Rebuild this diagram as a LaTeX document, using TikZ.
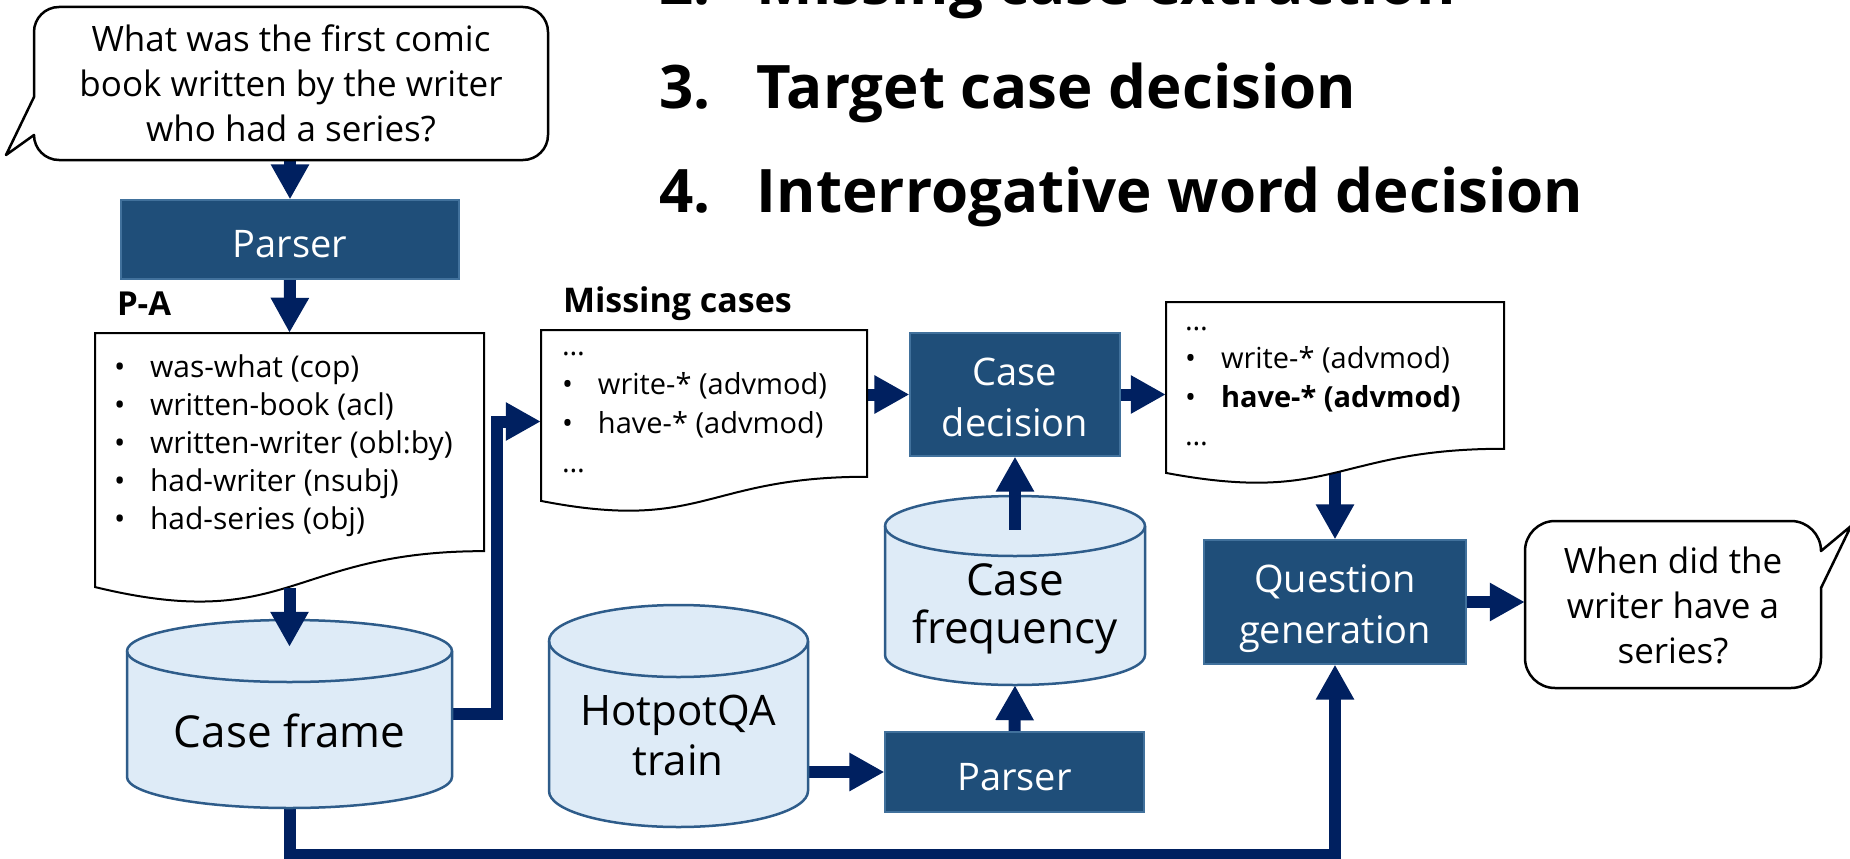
\documentclass[tikz,border=0pt]{standalone}
\usepackage{fontspec}
\setmainfont{Open Sans}
\usetikzlibrary{arrows.meta,fit,calc}
\definecolor{navy}{HTML}{002060}
\definecolor{boxblue}{HTML}{1F4E79}
\definecolor{boxedge}{HTML}{41719C}
\definecolor{cylfill}{HTML}{DEEBF7}
\definecolor{cyledge}{HTML}{2E5C8A}
\pgfdeclarelayer{back}\pgfdeclarelayer{bg}\pgfdeclarelayer{front}\pgfsetlayers{back,bg,main,front}
\newcommand\bul[1]{\makebox[36pt][l]{•}#1}
\newcommand\docshape[5]{%
  \draw[docline] (#2,#3) -- (#4,#3) -- (#4,#3+0.802*#5) .. controls ({(#2+#4)/2},#3+0.802*#5) and ({(#2+#4)/2},#3+1.1075*#5) .. (#2,#3+0.934*#5) -- cycle;
  \node[fit={(#2,#3)(#4,#3+#5)},inner sep=0pt] (#1) {};}
\newcommand\cylshape[6]{%
  \pgfmathsetmacro\cylrx{(#4-#2)/2}%
  \draw[cylbody] (#2,#3+#6) -- (#2,#5-#6) arc[start angle=180,end angle=360,x radius=\cylrx pt,y radius=#6pt] -- (#4,#3+#6) arc[start angle=0,end angle=180,x radius=\cylrx pt,y radius=#6pt] -- cycle;
  \draw[cylbody,fill=none] (#2,#3+#6) arc[start angle=180,end angle=360,x radius=\cylrx pt,y radius=#6pt];
  \node[fit={(#2,#3)(#4,#5)},inner sep=0pt] (#1) {};}
\begin{document}
\begin{tikzpicture}[x=1pt,y=-1pt,
  txt/.style={inner sep=0pt,outer sep=0pt},
  wtxt/.style={txt,text=white},
  docline/.style={draw=black,fill=white,line width=2pt},
  cylbody/.style={draw=cyledge,fill=cylfill,line width=2.5pt},
  procbox/.style={draw=boxedge,fill=boxblue,line width=1.2pt},
  bubble/.style={draw=black,fill=white,line width=2.5pt,line join=round},
  conn/.style={draw=navy,line width=12pt,line join=miter,-{Triangle[length=35pt,width=36pt]}},
  ttl/.style={txt,anchor=base west,font=\fontsize{60}{70}\selectfont\bfseries}]
\useasboundingbox (0,0) rectangle (1850,859);
\begin{pgfonlayer}{back}
\fill[white] (0,0) rectangle (1850,859);
\end{pgfonlayer}

% titles
\node[ttl] (t2) at (659,5) {\makebox[98pt][l]{2.}Missing case extraction};
\node[ttl] (t3) at (659,108) {\makebox[98pt][l]{3.}Target case decision};
\node[ttl] (t4) at (659,212) {\makebox[98pt][l]{4.}Interrogative word decision};

% input bubble
\draw[bubble] (34,97) -- (34,32) arc[start angle=180,end angle=90,radius=25pt] -- (523,7) arc[start angle=90,end angle=0,radius=25pt] -- (548,135) arc[start angle=0,end angle=-90,radius=25pt] -- (59,160) arc[start angle=270,end angle=180,radius=25pt] -- (34,135) -- (6,155) -- cycle;
\node[fit={(34,7)(548,160)},inner sep=0pt] (b1) {};
\node[txt,anchor=base] (b1t) at (291,52) {\fontsize{35}{45}\selectfont\begin{tabular}[t]{@{}c@{}}What was the first comic\\book written by the writer\\who had a series?\end{tabular}};

% parser 1
\node[procbox,fit={(121,200)(459,279)},inner sep=0pt] (p1) {};
\node[wtxt,anchor=base] (p1t) at (290,257) {\fontsize{38}{51}\selectfont Parser};

% P-A document
\node[txt,anchor=base west] (pal) at (117,315) {\fontsize{33}{40}\selectfont\bfseries P-A};
\docshape{pa}{95}{333}{484}{272}
\node[txt,anchor=base west] (pat) at (114,377) {\fontsize{30}{38}\selectfont\begin{tabular}[t]{@{}l@{}}\bul{was-what (cop)}\\\bul{written-book (acl)}\\\bul{written-writer (obl:by)}\\\bul{had-writer (nsubj)}\\\bul{had-series (obj)}\end{tabular}};

% Missing cases document
\node[txt,anchor=base west] (mcl) at (563,312) {\fontsize{34}{40}\selectfont\bfseries Missing cases};
\docshape{mc}{541}{330}{867}{183}
\node[txt,anchor=base west] (mct) at (562,355) {\fontsize{29}{39}\selectfont\begin{tabular}[t]{@{}l@{}}…\\\bul{write-* (advmod)}\\\bul{have-* (advmod)}\\…\end{tabular}};

% Case decision
\node[procbox,fit={(910,333)(1120,456)},inner sep=0pt] (cd) {};
\node[wtxt,anchor=base] (cdt) at (1015,385) {\fontsize{38}{51}\selectfont\begin{tabular}[t]{@{}c@{}}Case\\decision\end{tabular}};

% result document
\docshape{rd}{1166}{302}{1504}{183}
\node[txt,anchor=base west] (rdt) at (1185,330) {\fontsize{29}{38.5}\selectfont\begin{tabular}[t]{@{}l@{}}…\\\bul{write-* (advmod)}\\\bul{\bfseries have-* (advmod)}\\…\end{tabular}};

% Question generation
\node[procbox,fit={(1204,540)(1466,664)},inner sep=0pt] (qg) {};
\node[wtxt,anchor=base] (qgt) at (1335,592) {\fontsize{38}{51}\selectfont\begin{tabular}[t]{@{}c@{}}Question\\generation\end{tabular}};

% output bubble
\draw[bubble] (1525,551) arc[start angle=180,end angle=90,radius=30pt] -- (1791,521) arc[start angle=90,end angle=0,radius=30pt] -- (1851,526) -- (1821,588) -- (1821,658) arc[start angle=0,end angle=-90,radius=30pt] -- (1555,688) arc[start angle=270,end angle=180,radius=30pt] -- cycle;
\node[fit={(1525,521)(1821,688)},inner sep=0pt] (b2) {};
\node[txt,anchor=base] (b2t) at (1673,573) {\fontsize{35}{45}\selectfont\begin{tabular}[t]{@{}c@{}}When did the\\writer have a\\series?\end{tabular}};

% cylinders
\cylshape{cf}{127}{620}{452}{808}{31}
\node[txt,anchor=base] (cft) at (289.5,747) {\fontsize{44}{50}\selectfont Case frame};
\cylshape{hq}{549}{605}{808}{827}{36}
\node[txt,anchor=base] (hqt) at (678,725) {\fontsize{42}{50}\selectfont\begin{tabular}[t]{@{}c@{}}HotpotQA\\train\end{tabular}};
\cylshape{cfq}{885}{496}{1145}{685}{30}
\node[txt,anchor=base] (cfqt) at (1015,595) {\fontsize{44}{48}\selectfont\begin{tabular}[t]{@{}c@{}}Case\\frequency\end{tabular}};

% parser 2
\node[procbox,fit={(885,732)(1144,812)},inner sep=0pt] (p2) {};
\node[wtxt,anchor=base] (p2t) at (1014.5,790) {\fontsize{38}{51}\selectfont Parser};

\coordinate (low) at (0,855);

\begin{pgfonlayer}{bg}
\draw[conn] (b1.south -| p1.north) -- (p1.north);
\draw[conn] (p1.south) -- (pa.north);
\draw[conn] (cf.east) -- ++(45,0) |- (mc.west);
\draw[conn] (mc.east |- cd.west) -- (cd.west);
\draw[conn] (cd.east) -- (rd.west |- cd.east);
\draw[conn] (rd.center) -- (qg.north);
\draw[conn] (qg.east) -- (b2.west |- qg.east);
\draw[conn] (hq.east |- p2.west) -- (p2.west);
\draw[conn] (p2.north) -- (cfq.south);
\draw[conn] (cf.south) -- (cf.south |- low) -| (qg.south);
\end{pgfonlayer}
\begin{pgfonlayer}{front}
\draw[conn] ($(pa.south)+(0,-17)$) -- ($(cf.north)+(0,27)$);
\draw[conn] ($(cfq.north)+(0,34)$) -- (cd.south);
\end{pgfonlayer}
\end{tikzpicture}
\end{document}
